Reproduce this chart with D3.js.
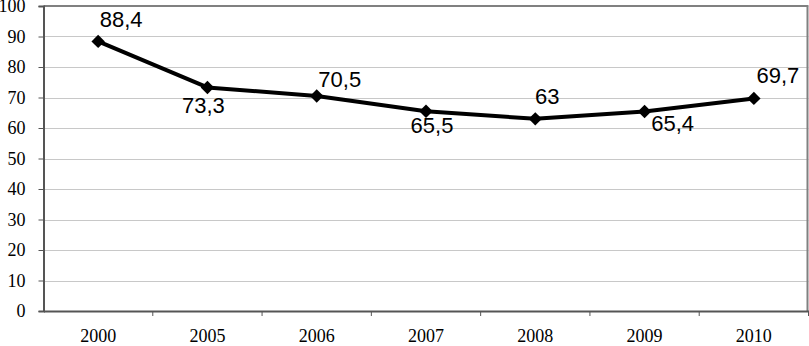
<!DOCTYPE html>
<html>
<head>
<meta charset="utf-8">
<script src="https://cdn.jsdelivr.net/npm/d3@7"></script>
<style>
  body { margin: 0; background: #fff; }
  .tick text { font-family: "Liberation Serif", "Times New Roman", serif; font-size: 18px; fill: #000; }
  .label { font-family: "Liberation Sans", Arial, sans-serif; font-size: 22px; fill: #000; }
</style>
</head>
<body>
<div id="chart"></div>
<script>
// values
const years = ['2000', '2005', '2006', '2007', '2008', '2009', '2010']
const values = [88.4, 73.3, 70.5, 65.5, 63, 65.4, 69.7]
const valueLabels = ['88,4', '73,3', '70,5', '65,5', '63', '65,4', '69,7']
const yTicks = [0, 10, 20, 30, 40, 50, 60, 70, 80, 90, 100]

// where each data label sits relative to its point [dx to text centre, dy to baseline]
const labelOffsets = [[23, -14], [-4, 26], [23, -9], [6, 22], [12, -15], [28, 19], [24, -15]]

const width = 809, height = 346
const margin = {top: 6, right: 0.5, bottom: 35, left: 43.5}

const svg = d3.select('#chart').append('svg')
    .attr('width', width)
    .attr('height', height)

let x = d3.scaleBand()
    .domain(years)
    .range([margin.left, width - margin.right])

let y = d3.scaleLinear()
    .domain([0, 100])
    .range([height - margin.bottom, margin.top])

// gridlines
svg.append('g')
    .selectAll('line')
    .data(yTicks.filter(d => d > 0))
    .enter().append('line')
    .attr('x1', margin.left)
    .attr('x2', width - margin.right)
    .attr('y1', d => Math.round(y(d)) + 0.5)
    .attr('y2', d => Math.round(y(d)) + 0.5)
    .attr('stroke', '#c8c8c8')
    .attr('stroke-width', 1)

// top and right border of the plot area
svg.append('path')
    .attr('d', `M${margin.left},${margin.top}H${width - margin.right - 1}V${y(0)}`)
    .attr('fill', 'none')
    .attr('stroke', '#808080')
    .attr('stroke-width', 2)

// y axis
let yAxis = svg.append('g')
    .attr('transform', `translate(${margin.left},0)`)
    .call(d3.axisLeft(y).tickValues(yTicks).tickSize(5).tickPadding(13))
yAxis.select('.domain').attr('stroke', '#555').attr('stroke-width', 2)
yAxis.selectAll('.tick line').attr('stroke', '#555')
yAxis.selectAll('.tick text').attr('dy', '0.33em')

// x axis, ticks sit on the band boundaries
let xAxis = svg.append('g')
    .attr('transform', `translate(0,${y(0)})`)
    .call(d3.axisBottom(x).tickSize(0).tickPadding(21))
xAxis.select('.domain').attr('stroke', '#555').attr('stroke-width', 2)
xAxis.selectAll('.tick text').attr('dy', '0.55em')

svg.append('g')
    .selectAll('line')
    .data(years)
    .enter().append('line')
    .attr('x1', (d, i) => x(years[0]) + x.step() * (i + 1))
    .attr('x2', (d, i) => x(years[0]) + x.step() * (i + 1))
    .attr('y1', y(0))
    .attr('y2', y(0) + 5)
    .attr('stroke', '#555')

let pts = years.map((d, i) => ({year: d, value: values[i], label: valueLabels[i], off: labelOffsets[i]}))
let cx = d => x(d.year) + x.bandwidth() / 2

// the line
let line = d3.line()
    .x(cx)
    .y(d => y(d.value))

svg.append('path')
    .datum(pts)
    .attr('d', line)
    .attr('fill', 'none')
    .attr('stroke', '#000')
    .attr('stroke-width', 4)
    .attr('stroke-linejoin', 'round')

// diamond markers
svg.append('g')
    .selectAll('path')
    .data(pts)
    .enter().append('path')
    .attr('d', d3.symbol().type(d3.symbolSquare).size(90))
    .attr('transform', d => `translate(${cx(d)},${y(d.value)}) rotate(45)`)
    .attr('fill', '#000')

// data labels
svg.append('g')
    .selectAll('text')
    .data(pts)
    .enter().append('text')
    .attr('class', 'label')
    .attr('text-anchor', 'middle')
    .attr('x', d => cx(d) + d.off[0])
    .attr('y', d => y(d.value) + d.off[1])
    .text(d => d.label)
</script>
</body>
</html>
